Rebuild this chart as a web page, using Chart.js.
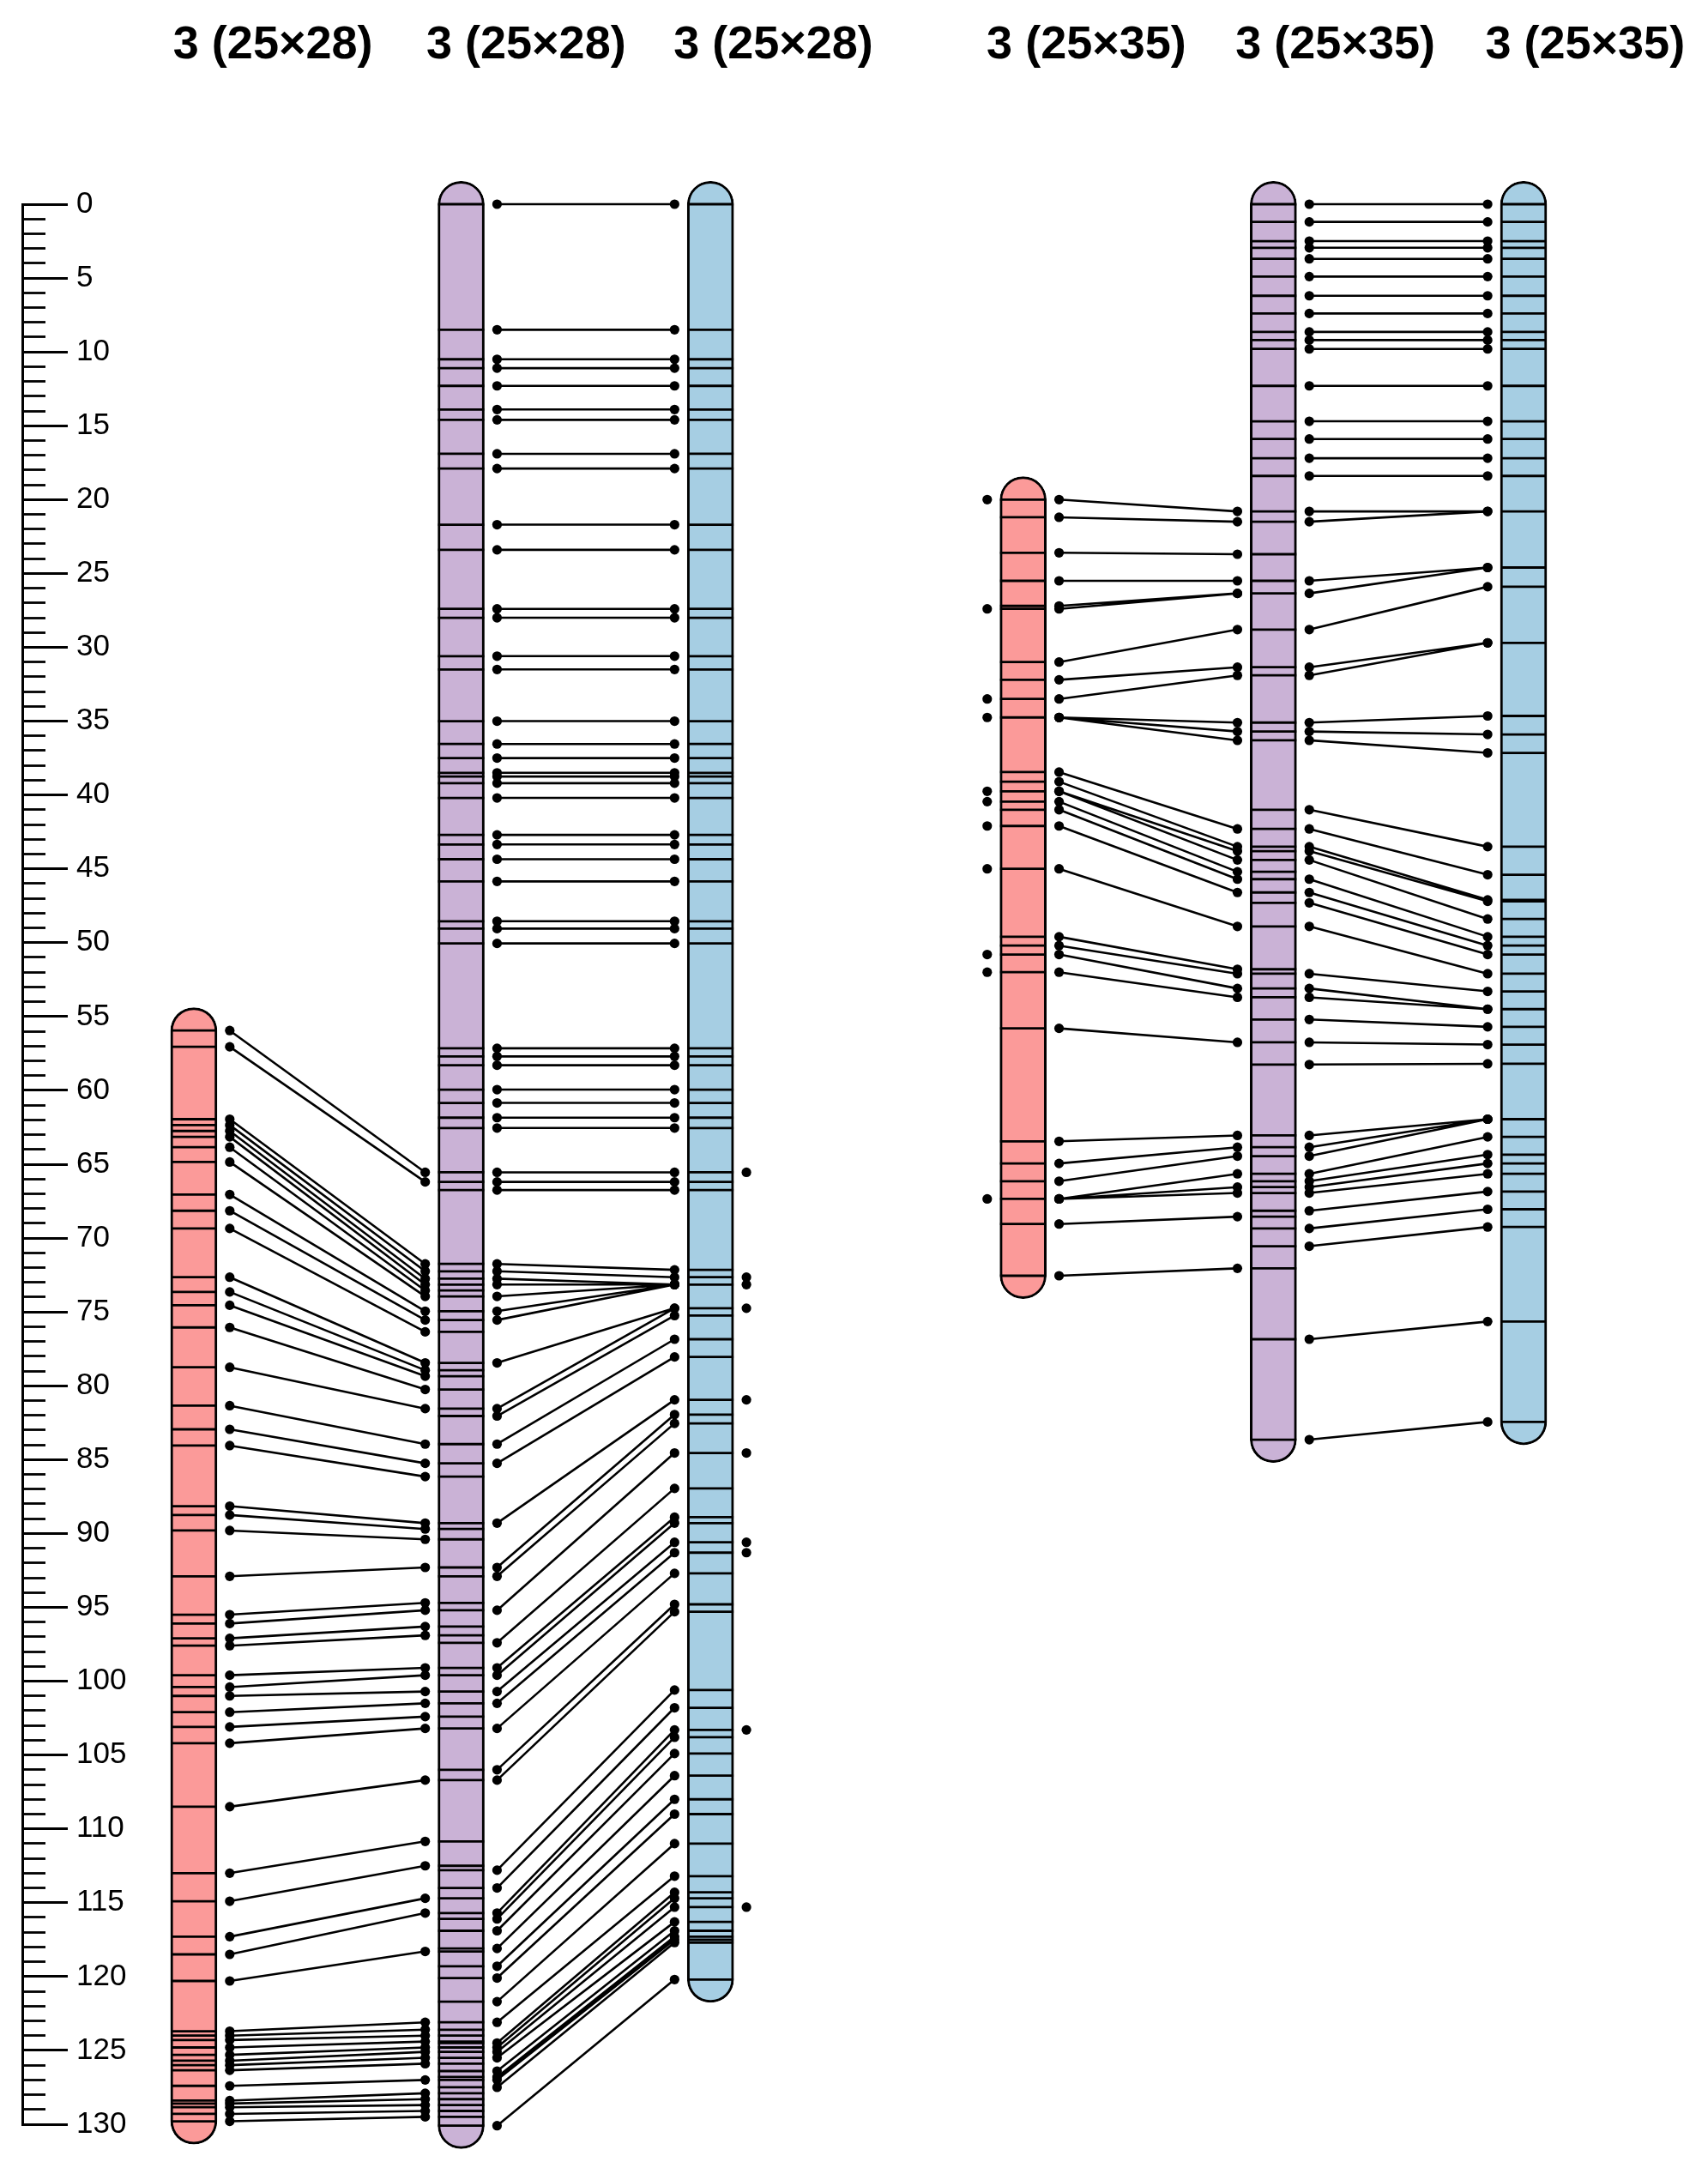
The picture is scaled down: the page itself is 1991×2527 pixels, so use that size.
<!DOCTYPE html>
<html>
<head>
<meta charset="utf-8">
<title>Chromosome 3 map comparison</title>
<script src="https://cdn.jsdelivr.net/npm/chart.js@4.4.1/dist/chart.umd.min.js"></script>
<style>
  html, body { margin: 0; padding: 0; background: #fff; }
  #wrap { width: 1991px; height: 2527px; }
</style>
</head>
<body>
<div id="wrap"><canvas id="map" width="1991" height="2527"></canvas></div>
<script>
// map titles (one per chromosome column)
const titles = ['3 (25×28)', '3 (25×28)', '3 (25×28)', '3 (25×35)', '3 (25×35)', '3 (25×35)'];

// axis, cM
const axisMin = 0;
const axisMax = 130;
const majorStep = 5;
const minorStep = 1;

// ---- left group (25x28) ----
// red -> purple links
const leftRPRed = [55.95, 57.05, 61.95, 62.35, 62.75, 63.15, 63.85, 64.85, 67.05, 68.15, 69.35, 72.65, 73.65, 74.55, 76.05,
  78.75, 81.35, 82.95, 84.05, 88.15, 88.75, 89.8, 92.9, 95.5, 96.1, 97.1, 97.6, 99.6, 100.4, 101.0, 102.1, 103.1, 104.2,
  108.5, 113.0, 114.9, 117.3, 118.5, 120.3, 123.7, 124.0, 124.3, 124.8, 125.3, 125.7, 126.0, 126.35, 127.4,
  128.4, 128.6, 128.85, 129.3, 129.8];
const leftRPPurple = [65.55, 66.2, 71.75, 72.25, 72.75, 73.15, 73.55, 73.95, 74.95, 75.55, 76.35, 78.45, 78.95, 79.35, 80.25,
  81.55, 83.95, 85.25, 86.15, 89.3, 89.7, 90.4, 92.3, 94.7, 95.2, 96.3, 96.9, 99.1, 99.6, 100.7, 101.5, 102.4, 103.2,
  106.7, 110.85, 112.5, 114.7, 115.7, 118.3, 123.1, 123.6, 124.0, 124.4, 124.8, 125.1, 125.5, 125.9, 127.0,
  127.9, 128.3, 128.7, 129.1, 129.5];
// purple -> blue, same position on both maps
const leftSharedPB = [0, 8.5, 10.5, 11.1, 12.3, 13.9, 14.6, 16.9, 17.9, 21.7, 23.4, 27.4, 28.0, 30.6, 31.5, 35.0, 36.55,
  37.5, 38.5, 38.75, 39.2, 40.2, 42.7, 43.35, 44.35, 45.85, 48.55, 49.05, 50.05, 57.15, 57.7, 58.3, 59.95, 60.85,
  61.85, 62.55, 65.55, 66.2, 66.75];
// purple -> blue, moved
const leftPBPurple = [71.75, 72.25, 72.75, 73.15, 73.95, 74.95, 75.55, 78.45, 81.55, 82.05, 83.95, 85.25, 89.3, 92.3,
  92.9, 95.2, 97.4, 99.1, 99.6, 100.7, 101.5, 103.2, 106.0, 106.7, 112.8, 114.0, 115.7, 116.1, 116.9, 118.1, 119.3,
  120.1, 121.7, 123.1, 124.5, 124.8, 125.1, 125.5, 126.4, 126.8, 127.0, 127.5, 130.1];
const leftPBBlue = [72.15, 72.65, 73.15, 73.15, 73.15, 73.15, 73.15, 74.75, 74.75, 75.25, 76.85, 78.05, 80.95, 81.95,
  82.55, 84.55, 86.95, 88.9, 89.3, 90.6, 91.3, 92.7, 94.8, 95.3, 100.6, 101.8, 103.3, 103.8, 104.9, 106.4, 108.0,
  109.0, 111.0, 113.2, 114.3, 114.7, 115.3, 116.3, 116.9, 117.3, 117.5, 117.7, 120.2];
// unlinked markers beside the blue map
const leftBlueOrphans = [65.55, 72.65, 73.15, 74.75, 80.95, 84.55, 90.6, 91.3, 103.3, 115.3];

// ---- right group (25x35) ----
const rightRPRed = [20.0, 21.2, 23.6, 25.5, 27.2, 27.4, 31.0, 32.2, 33.5, 34.75, 34.75, 34.75, 38.45, 39.1, 39.75, 39.75,
  40.45, 41.0, 42.1, 45.0, 49.6, 50.2, 50.8, 52.0, 55.8, 63.45, 64.95, 66.15, 67.35, 67.35, 67.35, 69.05, 72.55];
const rightRPPurple = [20.8, 21.5, 23.7, 25.5, 26.35, 26.35, 28.8, 31.35, 31.9, 35.1, 35.7, 36.3, 42.3, 43.5, 43.8, 44.4,
  45.2, 45.7, 46.6, 48.9, 51.8, 52.1, 53.1, 53.7, 56.75, 63.05, 63.85, 64.45, 65.65, 66.55, 66.95, 68.55, 72.05];
const rightSharedPB = [0, 1.2, 2.5, 2.95, 3.7, 4.9, 6.2, 7.4, 8.65, 9.2, 9.8, 12.3, 14.7, 15.9, 17.2, 18.4, 20.8];
const rightPBPurple = [21.5, 25.5, 26.35, 28.8, 31.35, 31.9, 35.1, 35.7, 36.3, 41.0, 42.3, 43.5, 43.8, 44.4, 45.7, 46.6,
  47.3, 48.9, 52.1, 53.1, 53.7, 55.2, 56.75, 58.25, 63.05, 63.85, 64.45, 65.65, 66.15, 66.55, 66.95, 68.15, 69.35,
  70.55, 76.85, 83.65];
const rightPBBlue = [20.8, 24.6, 24.6, 25.9, 29.7, 29.7, 34.65, 35.9, 37.15, 43.5, 45.4, 47.1, 47.2, 48.4, 49.6, 50.2,
  50.8, 52.1, 53.3, 54.5, 54.5, 55.7, 56.9, 58.2, 61.95, 61.95, 61.95, 63.15, 64.35, 64.95, 65.65, 66.85, 68.05,
  69.25, 75.65, 82.45];
// unlinked markers beside the red map
const rightRedOrphans = [20.0, 27.4, 33.5, 34.75, 39.75, 40.45, 42.1, 45.0, 50.8, 52.0, 67.35];

// ---- layout (pixels along x, the x scale runs 1:1 with the canvas) ----
const colX = [226.5, 539, 830.5, 1196, 1488.5, 1781];
const titleX = [319, 615, 904, 1270, 1561, 1853];
const colColors = ['#FB9A99', '#CAB2D6', '#A6CEE3', '#FB9A99', '#CAB2D6', '#A6CEE3'];
const chromW = 54;
const dotGap = 15;
const capPad = 1.55; // cM beyond first/last marker for the rounded ends

const uniq = (...lists) => [...new Set(lists.flat())].sort((a, b) => a - b);

const markers = [
  uniq(leftRPRed),
  uniq(leftRPPurple, leftSharedPB, leftPBPurple),
  uniq(leftSharedPB, leftPBBlue, leftBlueOrphans),
  uniq(rightRPRed, rightRedOrphans),
  uniq(rightRPPurple, rightSharedPB, rightPBPurple),
  uniq(rightSharedPB, rightPBBlue)
];

const leftEdge = i => colX[i] - chromW / 2;
const rightEdge = i => colX[i] + chromW / 2;

function markerData(i) {
  return markers[i].flatMap(v => [
    {x: leftEdge(i), y: v}, {x: rightEdge(i), y: v}, {x: colX[i], y: null}
  ]);
}

function linkData(xa, from, xb, to) {
  return from.flatMap((v, k) => [{x: xa, y: v}, {x: xb, y: to[k]}, {x: xa, y: null}]);
}

const lineStyle = {
  type: 'line', showLine: true, spanGaps: false, clip: false,
  borderColor: '#000', borderWidth: 2.8, pointRadius: 0, fill: false, tension: 0
};
const linkStyle = {
  type: 'line', showLine: true, spanGaps: false, clip: false,
  borderColor: '#000', borderWidth: 2.6, pointRadius: 5.6, pointBorderWidth: 0,
  pointBackgroundColor: '#000', fill: false, tension: 0, order: 1
};

const datasets = [];

datasets.push({
  type: 'bar',
  data: markers.map((m, i) => ({x: colX[i], y: [m[0] - capPad, m[m.length - 1] + capPad]})),
  backgroundColor: colColors,
  borderColor: '#000',
  borderWidth: 3,
  borderSkipped: false,
  borderRadius: chromW / 2,
  barThickness: chromW,
  grouped: false,
  clip: false,
  order: 3
});

markers.forEach((m, i) => datasets.push({...lineStyle, data: markerData(i), order: 2}));

datasets.push({...linkStyle, data: linkData(rightEdge(0) + dotGap, leftRPRed, leftEdge(1) - dotGap, leftRPPurple)});
datasets.push({...linkStyle, data: linkData(rightEdge(1) + dotGap, leftSharedPB, leftEdge(2) - dotGap, leftSharedPB)});
datasets.push({...linkStyle, data: linkData(rightEdge(1) + dotGap, leftPBPurple, leftEdge(2) - dotGap, leftPBBlue)});
datasets.push({...linkStyle, data: linkData(rightEdge(3) + dotGap, rightRPRed, leftEdge(4) - dotGap, rightRPPurple)});
datasets.push({...linkStyle, data: linkData(rightEdge(4) + dotGap, rightSharedPB, leftEdge(5) - dotGap, rightSharedPB)});
datasets.push({...linkStyle, data: linkData(rightEdge(4) + dotGap, rightPBPurple, leftEdge(5) - dotGap, rightPBBlue)});

datasets.push({
  ...linkStyle, showLine: false,
  data: leftBlueOrphans.map(v => ({x: rightEdge(2) + dotGap, y: v}))
});
datasets.push({
  ...linkStyle, showLine: false,
  data: rightRedOrphans.map(v => ({x: leftEdge(3) - dotGap, y: v}))
});

const fontFamily = '"Liberation Sans", Arial, Helvetica, sans-serif';

new Chart(document.getElementById('map'), {
  type: 'scatter',
  data: {datasets},
  options: {
    responsive: false,
    animation: false,
    events: [],
    layout: {padding: {left: 26, right: 0, top: 0, bottom: 51}},
    plugins: {legend: {display: false}, tooltip: {enabled: false}},
    scales: {
      x: {type: 'linear', min: 26, max: 1991, offset: false, display: false},
      xt: {
        type: 'linear', axis: 'x', position: 'top', min: 26, max: 1991, offset: false,
        grid: {display: false}, border: {display: false},
        afterBuildTicks: s => { s.ticks = titleX.map(v => ({value: v})); },
        afterFit: s => { s.height = 238; s.paddingLeft = 0; s.paddingRight = 0; },
        ticks: {
          autoSkip: false, maxRotation: 0, minRotation: 0, padding: 144, color: '#000',
          font: {family: fontFamily, size: 54, weight: 'bold'},
          callback: (v, i) => titles[i]
        }
      },
      y: {
        type: 'linear', position: 'left', reverse: true, min: axisMin, max: axisMax,
        afterFit: s => { s.width = 0; s.paddingTop = 0; s.paddingBottom = 0; },
        border: {display: true, color: '#000', width: 3},
        grid: {drawOnChartArea: false, drawTicks: true, tickLength: -53, tickWidth: 2.8, tickColor: '#000'},
        ticks: {
          stepSize: majorStep, autoSkip: false, mirror: true, padding: 63, color: '#000',
          font: {family: fontFamily, size: 35}
        }
      },
      y2: {
        type: 'linear', axis: 'y', position: 'left', reverse: true, min: axisMin, max: axisMax,
        afterFit: s => { s.width = 0; s.paddingTop = 0; s.paddingBottom = 0; },
        border: {display: true, color: '#000', width: 3},
        grid: {drawOnChartArea: false, drawTicks: true, tickLength: -27, tickWidth: 2.8, tickColor: '#000'},
        ticks: {stepSize: minorStep, autoSkip: false, display: false}
      }
    }
  }
});
</script>
</body>
</html>
